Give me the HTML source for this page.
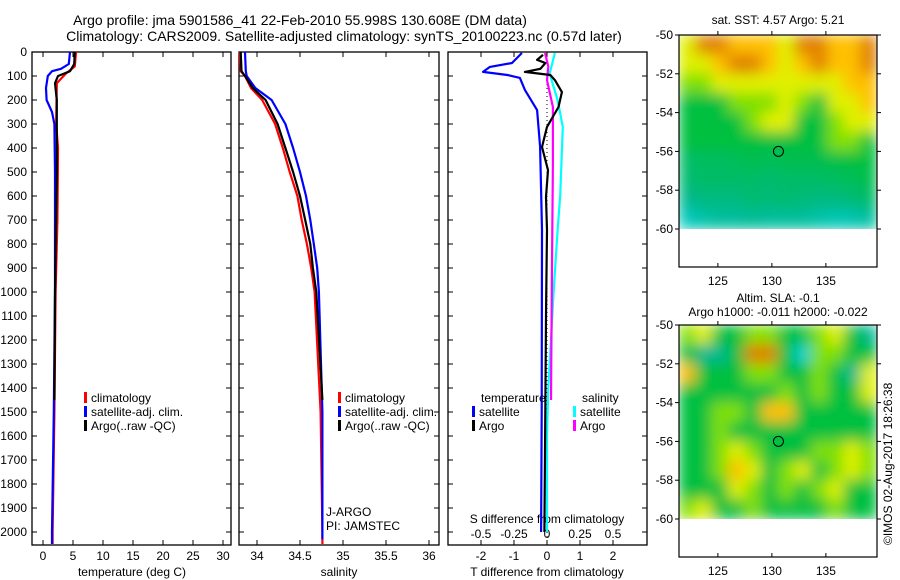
<!DOCTYPE html>
<html><head><meta charset="utf-8"><style>
body{margin:0;background:#fff}
svg{display:block;font-family:"Liberation Sans",sans-serif;font-size:12px}
</style></head><body>
<svg id="fig" width="900" height="580" viewBox="0 0 900 580" xmlns="http://www.w3.org/2000/svg">
<defs>
<filter id="blur" x="0" y="0" width="1" height="1"><feGaussianBlur stdDeviation="7" edgeMode="duplicate"/></filter>
<clipPath id="clip1"><rect x="679" y="35" width="198" height="194"/></clipPath>
<clipPath id="clip2"><rect x="679" y="325" width="198" height="194"/></clipPath>
</defs>
<text x="300" y="25" text-anchor="middle" font-size="14">Argo profile: jma 5901586_41 22-Feb-2010 55.998S 130.608E (DM data)</text>
<text x="344" y="41" text-anchor="middle" font-size="14">Climatology: CARS2009. Satellite-adjusted climatology: synTS_20100223.nc (0.57d later)</text>
<text x="778" y="24" text-anchor="middle">sat. SST: 4.57 Argo: 5.21</text>
<text x="778" y="302" text-anchor="middle">Altim. SLA: -0.1</text>
<text x="778" y="316" text-anchor="middle">Argo h1000: -0.011 h2000: -0.022</text>
<text transform="translate(892,545) rotate(-90)">©IMOS 02-Aug-2017 18:26:38</text>
<g id="g"></g>
</svg>
<script>
// ---------- data ----------
const depthTicks=[0,100,200,300,400,500,600,700,800,900,1000,1100,1200,1300,1400,1500,1600,1700,1800,1900,2000];
const tempTicks=[0,5,10,15,20,25,30];
const salTicks=[34,34.5,35,35.5,36];
const salTickLabels=["34","34.5","35","35.5","36"];
const tdTicks=[-2,-1,0,1,2];
const sdTicks=[-0.5,-0.25,0,0.25,0.5];
const sdTickLabels=["-0.5","-0.25","0","0.25","0.5"];
const lonTicks=[125,130,135];
const latTicks=[-50,-52,-54,-56,-58,-60];

const climTdepth=[0,60,90,130,300,400,700,1000,1500,2000,2050];
const climT=[5.5,5.3,3.8,2.3,2.2,2.5,2.4,2.1,1.9,1.6,1.6];
const satTdepth=[0,50,70,80,100,150,200,250,300,500,1000,1500,2000,2050];
const satT=[4.5,4.3,3.0,1.5,0.8,0.5,0.6,1.5,1.9,2.0,2.0,1.8,1.5,1.5];
const argoTdepth=[0,50,80,90,100,130,200,300,500,1000,1450];
const argoT=[5.3,5.2,4.5,3.5,2.5,2.0,2.3,2.3,2.3,2.0,1.9];

const climSdepth=[0,80,100,150,200,300,400,500,600,700,800,900,1000,1500,2000,2050];
const climS=[33.8,33.81,33.86,33.93,34.06,34.21,34.30,34.38,34.47,34.52,34.58,34.63,34.67,34.74,34.76,34.76];
const satSdepth=[0,80,100,150,200,300,400,500,600,700,800,900,1000,1500,2000,2030];
const satS=[33.86,33.87,33.88,33.98,34.17,34.33,34.42,34.50,34.57,34.62,34.66,34.70,34.72,34.76,34.76,34.76];
const argoSdepth=[0,80,100,150,200,300,400,500,600,700,800,900,1000,1450];
const argoS=[33.81,33.82,33.86,33.95,34.10,34.24,34.33,34.42,34.50,34.56,34.62,34.65,34.69,34.76];

const satTdDepth=[4,46,62,83,96,108,158,242,395,742,1500,2000];
const satTd=[-0.76,-1.06,-1.73,-1.94,-1.2,-0.82,-0.67,-0.3,-0.21,-0.15,-0.16,-0.18];
const argoTdDepth=[12,33,46,70,83,96,117,167,229,312,396,492,604,742,1100,1450,2000];
const argoTd=[-0.12,-0.3,-0.05,-0.2,-0.67,0.1,0.24,0.45,0.35,0,-0.15,0.03,-0.03,0,-0.03,-0.05,-0.08];
const argoSdDepth=[4,60,117,229,465,742,1100,1450];
const argoSd=[-0.015,0.01,0,0.045,0.045,0.04,0.035,0.03];
const satSdDepth=[4,90,200,312,600,742,1000,1400,1600,2000];
const satSd=[0.06,0.02,0.08,0.12,0.1,0.08,0.05,0.01,0.0,0.0];

// map grids (rows = lat -50..-60 by 1deg, cols = lon 121.4..139.7, 12 cols) colour index 2(cyan)..8(orange)
const sstGrid=[
[6,8,8,7,7,7,6,8,8,7,7,8],
[6,6,7,8,8,7,6,7,8,7,7,8],
[5,5,6,6,6,6,6,6,6,6,7,7],
[4,4,4,5,5,5,6,5,4,6,6,7],
[4,4,4,4,5,6,6,4,4,5,6,6],
[4,4,4,4,4,4,4,4,4,5,5,4],
[3.5,3.6,3.6,3.7,3.8,3.7,3.8,3.8,3.8,3.9,4,4],
[3.4,3.5,3.5,3.5,3.5,3.4,3.5,3.5,3.5,3.6,3.7,3.8],
[3,3.2,3.2,3.2,3.4,3.3,3.4,3.3,3.2,3.2,3.3,3.5],
[2.3,2.6,2.8,2.8,2.9,2.8,2.8,2.8,2.6,2.4,2.5,2.7]];
const slaGrid=[
[5,6,4,4,5,5,4,4,5,6,4,3],
[4,3,3,4,8,8,4,2,5,5,4,4],
[7,4,4,4,5,5,4,4,5,4,3,6],
[4,4,4,4,4,4,5,4,5,4,4,6],
[4,4,5,5,4,7,7,4,4,4,4,4],
[4,4,5,4,4,4,4,4,4,4,4,4],
[4,4,5,6,5,4,4,4,5,5,6,5],
[4,4,5,7,6,4,5,6,4,5,6,5],
[4,4,4,6,5,4,5,4,5,6,4,4],
[5,6,4,4,5,4,4,4,4,5,4,4]];
const argoLon=130.608, argoLat=-55.998;

// ---------- helpers ----------
const NS="http://www.w3.org/2000/svg";
const G=document.getElementById('g');
function mk(tag,attrs,parent){const e=document.createElementNS(NS,tag);for(const k in attrs)e.setAttribute(k,attrs[k]);(parent||G).appendChild(e);return e;}
const Y=d=>52+0.24*d;
const XT=t=>43+6*t;
const XS=s=>257+86*(s-34);
const XTD=t=>547+33*t;
const XSD=s=>547+132*s;
const TOP=52,BOT=545;
function path(xs,ds,fx,color,name,w){
  let d='';xs.forEach((v,i)=>{d+=(i?'L':'M')+fx(v).toFixed(1)+','+Y(ds[i]).toFixed(1);});
  const p=mk('path',{d:d,fill:'none',stroke:color,'stroke-width':w||2.2,'stroke-linejoin':'round'});
  
  
}
function panel(x0,x1,name){
  const r=mk('rect',{x:x0,y:TOP,width:x1-x0,height:BOT-TOP,fill:'none',stroke:'#000','stroke-width':1.3});
  
  
  depthTicks.forEach(d=>{mk('line',{x1:x0,x2:x0+5,y1:Y(d),y2:Y(d),stroke:'#000'});mk('line',{x1:x1,x2:x1-5,y1:Y(d),y2:Y(d),stroke:'#000'});});
}
function xticks(vals,labels,fx,y,name){
  vals.forEach((v,i)=>{const x=fx(v);
    mk('line',{x1:x,x2:x,y1:BOT,y2:BOT-5,stroke:'#000'});mk('line',{x1:x,x2:x,y1:TOP,y2:TOP+5,stroke:'#000'});
    const t=mk('text',{x:x,y:y,'text-anchor':'middle'});t.textContent=labels[i];
    
    
  });
}
function label(x,y,txt,name,anchor){const t=mk('text',{x:x,y:y,'text-anchor':anchor||'start'});t.textContent=txt;
  
  return t;}
function legendItem(x,y,color,txt,name){
  mk('rect',{x:x,y:y-10,width:3,height:11,fill:color});
  label(x+7,y,txt,name);
}

// ---------- panel 1 ----------
panel(32,231,'temperature-panel');
depthTicks.forEach(d=>{label(27,Y(d)+4,String(d),'depth-tick-label','end');});
xticks(tempTicks,tempTicks.map(String),XT,560,'temperature-tick-label');
label(132,576,'temperature (deg C)','temperature-axis-title','middle');
path(climT,climTdepth,XT,'#f00','climatology-temperature-line');
path(satT,satTdepth,XT,'#00f','satellite-temperature-line');
path(argoT,argoTdepth,XT,'#000','argo-temperature-line');
legendItem(84,402,'#f00','climatology','legend-climatology');
legendItem(84,416,'#00f','satellite-adj. clim.','legend-satellite');
legendItem(84,430,'#000','Argo(..raw -QC)','legend-argo');

// ---------- panel 2 ----------
panel(239,439,'salinity-panel');
xticks(salTicks,salTickLabels,XS,560,'salinity-tick-label');
label(339,576,'salinity','salinity-axis-title','middle');
path(climS,climSdepth,XS,'#f00','climatology-salinity-line');
path(satS,satSdepth,XS,'#00f','satellite-salinity-line');
path(argoS,argoSdepth,XS,'#000','argo-salinity-line');
legendItem(338,402,'#f00','climatology','legend-climatology-2');
legendItem(338,416,'#00f','satellite-adj. clim.','legend-satellite-2');
legendItem(338,430,'#000','Argo(..raw -QC)','legend-argo-2');
label(326,516,'J-ARGO','data-centre-label');
label(326,530,'PI: JAMSTEC','pi-label');

// ---------- panel 3 ----------
panel(448,647,'difference-panel');
xticks(tdTicks,tdTicks.map(String),XTD,560,'t-difference-tick-label');
label(547,576,'T difference from climatology','t-difference-axis-title','middle');
label(547,523,'S difference from climatology','s-difference-axis-title','middle');
sdTicks.forEach((v,i)=>{label(XSD(v),538,sdTickLabels[i],'s-difference-tick-label','middle');});
mk('line',{x1:XTD(0),x2:XTD(0),y1:Y(100),y2:BOT,stroke:'#000','stroke-dasharray':'1,3'});
path(satTd,satTdDepth,XTD,'#00f','satellite-t-difference-line');
path(satSd,satSdDepth,XSD,'#0ff','satellite-s-difference-line');
path(argoSd,argoSdDepth,XSD,'#f0f','argo-s-difference-line');
path(argoTd,argoTdDepth,XTD,'#000','argo-t-difference-line');
label(481,402,'temperature','legend-temperature-heading');
legendItem(472,416,'#00f','satellite','legend-t-satellite');
legendItem(472,430,'#000','Argo','legend-t-argo');
label(582,402,'salinity','legend-salinity-heading');
legendItem(573,416,'#0ff','satellite','legend-s-satellite');
legendItem(573,430,'#f0f','Argo','legend-s-argo');

// ---------- maps ----------
const stops=[[2,[0,208,208]],[3,[0,184,144]],[4,[0,192,64]],[5,[128,224,0]],[6,[224,240,0]],[7,[255,192,0]],[8,[224,128,0]]];
function col(v){v=Math.max(2,Math.min(8,v));for(let i=0;i<stops.length-1;i++){const a=stops[i],b=stops[i+1];if(v<=b[0]){const f=(v-a[0])/(b[0]-a[0]);return 'rgb('+a[1].map((c,j)=>Math.round(c+(b[1][j]-c)*f)).join(',')+')';}}return 'rgb(224,128,0)';}
function map(top,grid,clip,name){
  const LX=l=>679+10.8*(l-121.4), LY=la=>top+19.4*(-50-la);
  const gg=mk('g',{'clip-path':'url(#'+clip+')'});
  const inner=mk('g',{filter:'url(#blur)'},gg);
  const cw=198/grid[0].length, ch=194/grid.length;
  grid.forEach((row,r)=>row.forEach((v,c)=>{
    const cell=mk('rect',{x:(679+c*cw-0.3).toFixed(1),y:(top+r*ch-0.3).toFixed(1),width:(cw+0.6).toFixed(1),height:(ch+0.6).toFixed(1),fill:col(v)},inner);
    
    
  }));
  const fr=mk('rect',{x:679,y:top,width:198,height:232,fill:'none',stroke:'#000','stroke-width':1.2});
  
  
  lonTicks.forEach(l=>{const x=LX(l);mk('line',{x1:x,x2:x,y1:top,y2:top-4,stroke:'#000'});mk('line',{x1:x,x2:x,y1:top+232,y2:top+228,stroke:'#000'});
    label(x,top+250,String(l),'longitude-tick-label','middle');});
  latTicks.forEach(la=>{const y=LY(la);mk('line',{x1:679,x2:675,y1:y,y2:y,stroke:'#000'});mk('line',{x1:877,x2:881,y1:y,y2:y,stroke:'#000'});
    label(673,y+4,String(la),'latitude-tick-label','end');});
  const c=mk('circle',{cx:LX(argoLon),cy:LY(argoLat),r:5,fill:'none',stroke:'#000','stroke-width':1});
  
  
}
map(35,sstGrid,'clip1','sst-map');
map(325,slaGrid,'clip2','sla-map');
</script>
</body></html>
